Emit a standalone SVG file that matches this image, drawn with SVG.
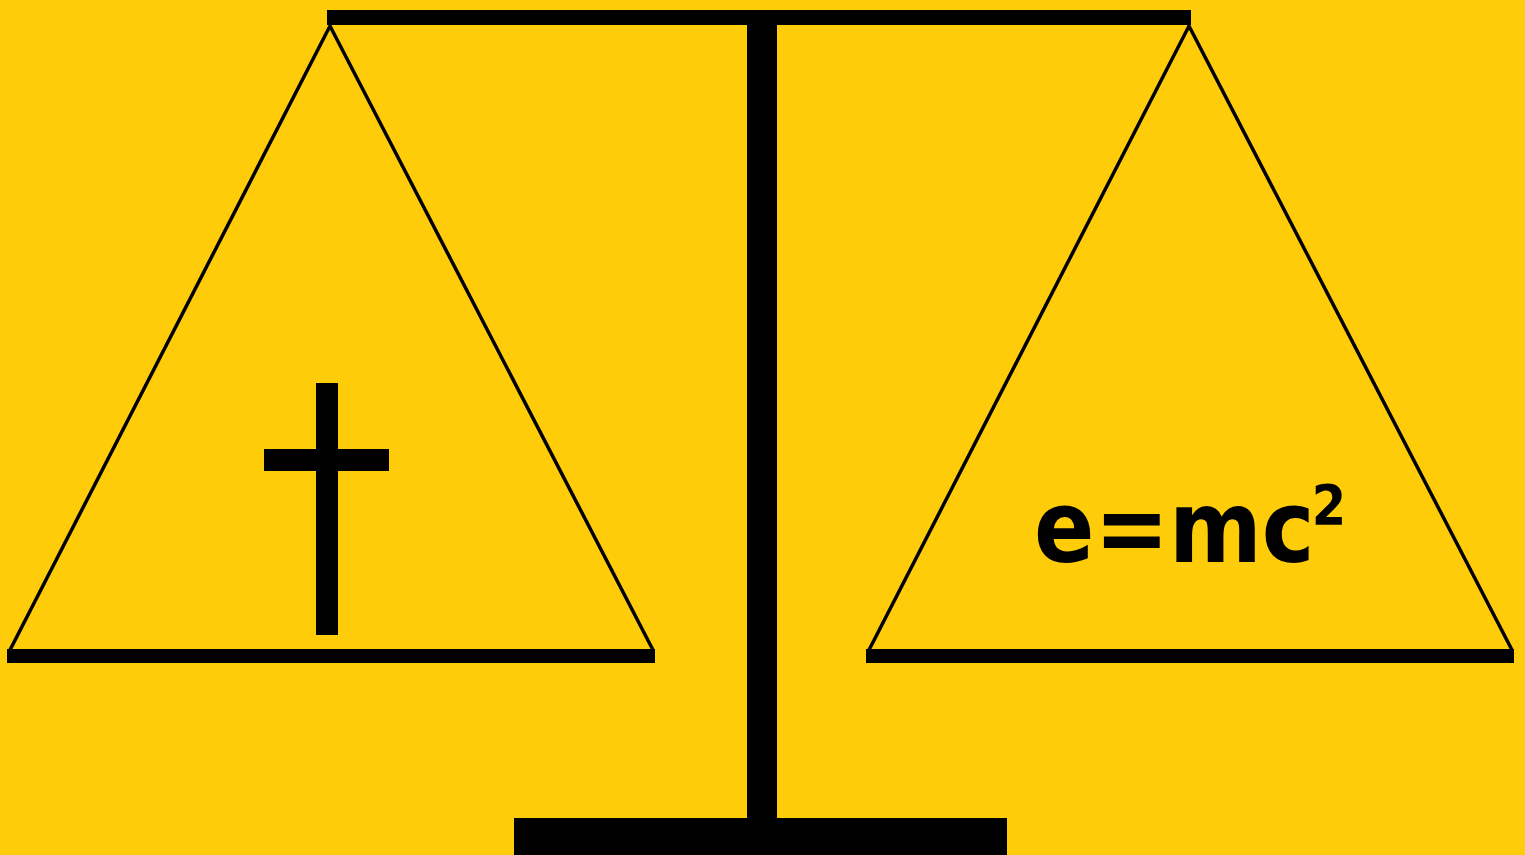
<svg xmlns="http://www.w3.org/2000/svg" width="1525" height="855" viewBox="0 0 1525 855">
<style>
.bar{fill:#000}
.rope{fill:none;stroke:#000;stroke-width:3.5;stroke-linejoin:miter}
.formula{font-family:"DejaVu Sans Condensed","DejaVu Sans",sans-serif;font-weight:bold;fill:#000}
</style>
<rect width="1525" height="855" fill="#FECC09"/>
<g id="stand">
<rect class="bar" x="327" y="10" width="864" height="15"/>
<rect class="bar" x="747" y="24" width="30" height="796"/>
<rect class="bar" x="514" y="818" width="493" height="37"/>
</g>
<g id="left-pan">
<polyline class="rope" points="10,650 330,26 653,650"/>
<rect class="bar" x="7" y="649" width="648" height="14"/>
<g id="cross">
<rect class="bar" x="316" y="383" width="22" height="252"/>
<rect class="bar" x="264" y="449" width="125" height="22"/>
</g>
</g>
<g id="right-pan">
<polyline class="rope" points="869,650 1189,26 1512,650"/>
<rect class="bar" x="866" y="649" width="648" height="14"/>
<text class="formula" x="1034" y="562" font-size="99">e=mc<tspan font-size="55" dx="-3" dy="-38">2</tspan></text>
</g>
</svg>
